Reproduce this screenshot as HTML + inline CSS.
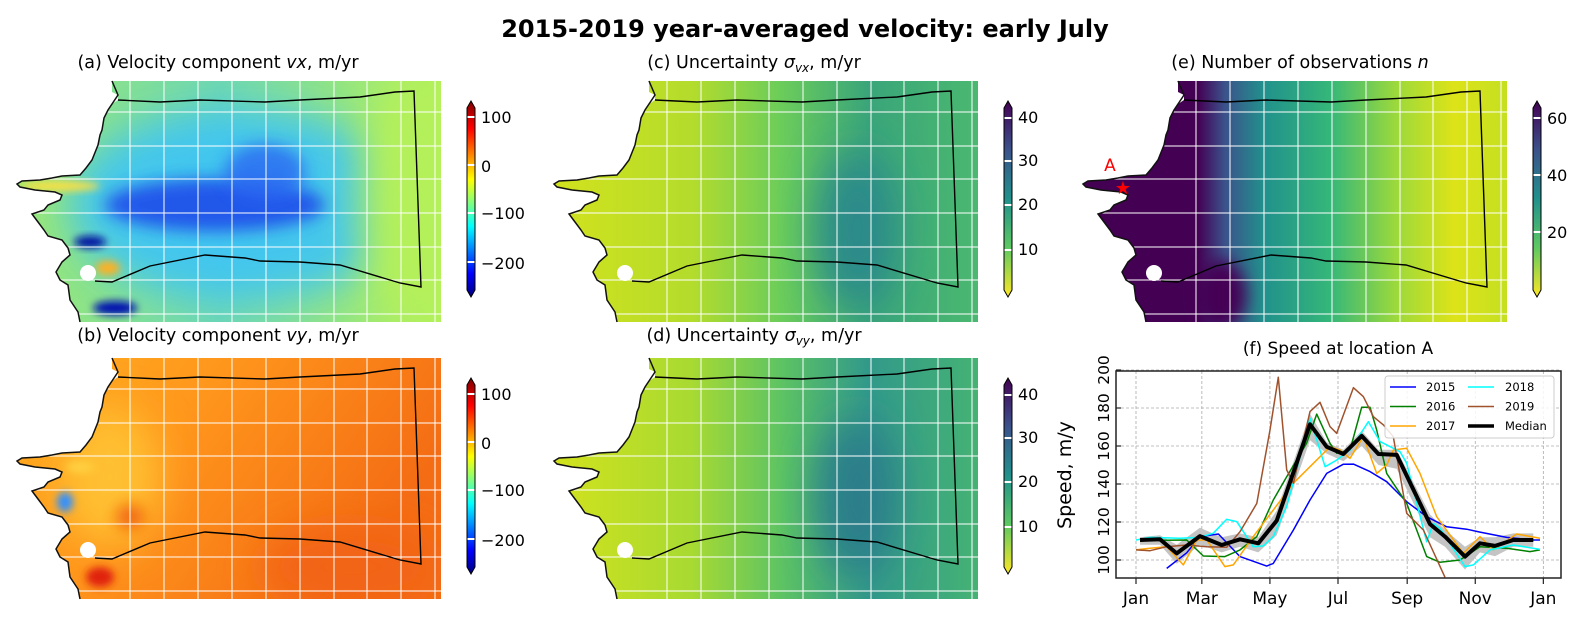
<!DOCTYPE html>
<html><head><meta charset="utf-8">
<style>
html,body{margin:0;padding:0;background:#fff;}
svg{display:block;font-family:"DejaVu Sans","Liberation Sans",sans-serif;}
</style></head>
<body>
<svg id="fig" width="1592" height="630" viewBox="0 0 1592 630" xmlns="http://www.w3.org/2000/svg">
<defs>
  <clipPath id="land"><path d="M112,81 L441,81 L441,322 L80,322 L78,312 L70,300 L68,285 L60,280 L56,272 L62,262 L70,255 L68,248 L62,240 L48,236 L44,230 L38,222 L32,214 L44,210 L48,205 L60,200 L62,195 L55,192 L35,190 L20,187 L17,184 L22,181 L40,180 L52,178 L62,176 L80,175 L86,168 L92,160 L96,150 L98,145 L100,135 L102,130 L104,118 L108,110 L112,104 L118,100 L118,95 L112,92 Z"/></clipPath>
  <filter id="b8" x="-50%" y="-50%" width="200%" height="200%"><feGaussianBlur stdDeviation="8"/></filter>
  <filter id="b20" x="-50%" y="-50%" width="200%" height="200%"><feGaussianBlur stdDeviation="20"/></filter>
  <filter id="b4" x="-50%" y="-50%" width="200%" height="200%"><feGaussianBlur stdDeviation="4"/></filter>
  <linearGradient id="gA" x1="0" x2="1" y1="0" y2="0"><stop offset="0" stop-color="#9eea70"/><stop offset="0.5" stop-color="#70d8b0"/><stop offset="1" stop-color="#b2f05c"/></linearGradient>
  <linearGradient id="gB" x1="0" x2="1" y1="0" y2="0.4"><stop offset="0" stop-color="#ffb020"/><stop offset="0.45" stop-color="#ff961c"/><stop offset="1" stop-color="#f46c14"/></linearGradient>
  <linearGradient id="gC" x1="0" x2="1" y1="0" y2="0"><stop offset="0.04" stop-color="#d2e21c"/><stop offset="0.35" stop-color="#b4dc2c"/><stop offset="0.55" stop-color="#6ccd5a"/><stop offset="0.75" stop-color="#3aa57a"/><stop offset="1" stop-color="#4ab870"/></linearGradient>
  <linearGradient id="gD" x1="0" x2="1" y1="0" y2="0"><stop offset="0.04" stop-color="#d2e21c"/><stop offset="0.35" stop-color="#a8da32"/><stop offset="0.55" stop-color="#5ec462"/><stop offset="0.75" stop-color="#32998a"/><stop offset="1" stop-color="#45b274"/></linearGradient>
  <linearGradient id="gE" x1="0" x2="1" y1="0" y2="0"><stop offset="0" stop-color="#440154"/><stop offset="0.30" stop-color="#440154"/><stop offset="0.36" stop-color="#3b528b"/><stop offset="0.45" stop-color="#21918c"/><stop offset="0.6" stop-color="#35b779"/><stop offset="0.75" stop-color="#9dd93b"/><stop offset="0.88" stop-color="#dde318"/><stop offset="1" stop-color="#c5e021"/></linearGradient>
  <linearGradient id="jet" x1="0" x2="0" y1="1" y2="0"><stop offset="0" stop-color="#00007f"/><stop offset="0.12" stop-color="#0000ff"/><stop offset="0.36" stop-color="#00ffff"/><stop offset="0.6" stop-color="#ffff00"/><stop offset="0.86" stop-color="#ff0000"/><stop offset="1" stop-color="#7f0000"/></linearGradient>
  <linearGradient id="vir" x1="0" x2="0" y1="1" y2="0"><stop offset="0" stop-color="#fde725"/><stop offset="0.25" stop-color="#5ec962"/><stop offset="0.5" stop-color="#21918c"/><stop offset="0.75" stop-color="#3b528b"/><stop offset="1" stop-color="#440154"/></linearGradient>
  <g id="grid" stroke="#fff" stroke-width="1">
    <path d="M130,81V322M164,81V322M198,81V322M232,81V322M266,81V322M300,81V322M334,81V322M367,81V322M401,81V322M435,81V322M17,112H441M17,146H441M17,179H441M17,213H441M17,247H441M17,280H441M17,314H441"/>
  </g>
  <g id="outline">
    <circle cx="88" cy="273" r="8" fill="#fff"/>
    <path d="M112,81 L118,95 L112,104 L108,110 L104,118 L102,130 L100,135 L98,145 L96,150 L92,160 L86,168 L80,175 L62,176 L52,178 L40,180 L22,181 L17,184 L20,187 L35,190 L55,192 L62,195 L60,200 L48,205 L44,210 L32,214 L38,222 L44,230 L48,236 L62,240 L68,248 L70,255 L62,262 L56,272 L60,280 L68,285 L70,300 L78,312 L80,322" fill="none" stroke="#111" stroke-width="1.5"/>
    <path d="M118,100 L160,102 L200,100 L265,102 L300,100 L360,97 L395,92 L414,91 L421,287 L400,283 L340,265 L300,262 L260,261 L245,258 L205,255 L150,266 L112,282 L95,281" fill="none" stroke="#000" stroke-width="1.4"/>
  </g>
</defs>

<text x="805" y="37" text-anchor="middle" font-size="24" font-weight="bold">2015-2019 year-averaged velocity: early July</text>

<!-- Panel a -->
<g>
  <g clip-path="url(#land)">
    <rect x="0" y="81" width="441" height="241" fill="url(#gA)"/>
    <ellipse cx="240" cy="205" rx="170" ry="95" fill="#3cc4f6" opacity="0.9" filter="url(#b20)"/>
    <ellipse cx="215" cy="205" rx="110" ry="26" fill="#1a44ea" opacity="0.85" filter="url(#b8)"/>
    <ellipse cx="265" cy="172" rx="40" ry="28" fill="#2a68f2" opacity="0.8" filter="url(#b8)"/>
    <ellipse cx="60" cy="186" rx="40" ry="5" fill="#ffe040" filter="url(#b4)"/>
    <ellipse cx="90" cy="242" rx="16" ry="6" fill="#0010a0" filter="url(#b4)"/>
    <ellipse cx="115" cy="308" rx="22" ry="7" fill="#0010b0" filter="url(#b4)"/>
    <ellipse cx="108" cy="268" rx="12" ry="7" fill="#ffb020" filter="url(#b4)"/>
    <ellipse cx="420" cy="200" rx="60" ry="130" fill="#b4f05a" filter="url(#b20)"/>
  </g>
  <use href="#grid"/><use href="#outline"/>
</g>
<text x="218" y="68" text-anchor="middle" font-size="17.5">(a) Velocity component <tspan font-style="italic">vx</tspan>, m/yr</text>

<!-- Panel b -->
<g transform="translate(0,277)">
  <g clip-path="url(#land)">
    <rect x="0" y="81" width="441" height="241" fill="url(#gB)"/>
    <ellipse cx="110" cy="200" rx="50" ry="70" fill="#ffc030" filter="url(#b20)"/>
    <ellipse cx="65" cy="225" rx="8" ry="10" fill="#3090ff" filter="url(#b4)"/>
    <ellipse cx="80" cy="190" rx="14" ry="6" fill="#ffd040" filter="url(#b4)"/>
    <ellipse cx="100" cy="300" rx="14" ry="10" fill="#e02010" filter="url(#b4)"/>
    <ellipse cx="130" cy="240" rx="14" ry="12" fill="#f06010" filter="url(#b8)"/>
    <ellipse cx="350" cy="290" rx="90" ry="40" fill="#f26414" filter="url(#b20)"/>
  </g>
  <use href="#grid"/><use href="#outline"/>
</g>
<text x="218" y="341" text-anchor="middle" font-size="17.5">(b) Velocity component <tspan font-style="italic">vy</tspan>, m/yr</text>

<!-- Panel c -->
<g transform="translate(537,0)">
  <g clip-path="url(#land)">
    <rect x="0" y="81" width="441" height="241" fill="url(#gC)"/>
    <ellipse cx="320" cy="230" rx="40" ry="80" fill="#2a8a8a" filter="url(#b20)"/>
  </g>
  <use href="#grid"/><use href="#outline"/>
</g>
<text x="754" y="68" text-anchor="middle" font-size="17.5">(c) Uncertainty <tspan font-style="italic">σ</tspan><tspan font-size="12" dy="4" font-style="italic">vx</tspan><tspan dy="-4">, m/yr</tspan></text>

<!-- Panel d -->
<g transform="translate(537,277)">
  <g clip-path="url(#land)">
    <rect x="0" y="81" width="441" height="241" fill="url(#gD)"/>
    <ellipse cx="320" cy="220" rx="40" ry="80" fill="#2a7e8a" filter="url(#b20)"/>
  </g>
  <use href="#grid"/><use href="#outline"/>
</g>
<text x="754" y="341" text-anchor="middle" font-size="17.5">(d) Uncertainty <tspan font-style="italic">σ</tspan><tspan font-size="12" dy="4" font-style="italic">vy</tspan><tspan dy="-4">, m/yr</tspan></text>

<!-- Panel e -->
<g transform="translate(1066,0)">
  <g clip-path="url(#land)">
    <rect x="0" y="81" width="441" height="241" fill="url(#gE)"/>
    <ellipse cx="155" cy="295" rx="25" ry="35" fill="#440154" filter="url(#b8)"/>
  </g>
  <use href="#grid"/><use href="#outline"/>
</g>
<text x="1300" y="68" text-anchor="middle" font-size="17.5">(e) Number of observations <tspan font-style="italic">n</tspan></text>
<text x="1110" y="171" text-anchor="middle" font-size="17" fill="#ff0000">A</text>
<text x="1123" y="194" text-anchor="middle" font-size="18" fill="#ff0000">★</text>

<!-- Colorbars -->
<g>
  <path d="M467,108 L471,101 L475,108 L475,290 L471,297 L467,290 Z" fill="url(#jet)" stroke="#000" stroke-width="1"/>
  <g fill="#fff"><rect x="467.5" y="116" width="7" height="2"/><rect x="467.5" y="164" width="7" height="2"/><rect x="467.5" y="212" width="7" height="2"/><rect x="467.5" y="261" width="7" height="2"/></g>
  <g font-size="16"><text x="481" y="123">100</text><text x="481" y="172">0</text><text x="481" y="219">−100</text><text x="481" y="269">−200</text></g>
</g>
<g transform="translate(0,277)">
  <path d="M467,108 L471,101 L475,108 L475,290 L471,297 L467,290 Z" fill="url(#jet)" stroke="#000" stroke-width="1"/>
  <g fill="#fff"><rect x="467.5" y="116" width="7" height="2"/><rect x="467.5" y="164" width="7" height="2"/><rect x="467.5" y="212" width="7" height="2"/><rect x="467.5" y="261" width="7" height="2"/></g>
  <g font-size="16"><text x="481" y="123">100</text><text x="481" y="172">0</text><text x="481" y="219">−100</text><text x="481" y="269">−200</text></g>
</g>
<g transform="translate(537,0)">
  <path d="M467,108 L471,101 L475,108 L475,290 L471,297 L467,290 Z" fill="url(#vir)" stroke="#000" stroke-width="1"/>
  <g fill="#fff"><rect x="467.5" y="117" width="7" height="2"/><rect x="467.5" y="160" width="7" height="2"/><rect x="467.5" y="204" width="7" height="2"/><rect x="467.5" y="249" width="7" height="2"/></g>
  <g font-size="16"><text x="481" y="123">40</text><text x="481" y="166">30</text><text x="481" y="210">20</text><text x="481" y="255">10</text></g>
</g>
<g transform="translate(537,277)">
  <path d="M467,108 L471,101 L475,108 L475,290 L471,297 L467,290 Z" fill="url(#vir)" stroke="#000" stroke-width="1"/>
  <g fill="#fff"><rect x="467.5" y="117" width="7" height="2"/><rect x="467.5" y="160" width="7" height="2"/><rect x="467.5" y="204" width="7" height="2"/><rect x="467.5" y="249" width="7" height="2"/></g>
  <g font-size="16"><text x="481" y="123">40</text><text x="481" y="166">30</text><text x="481" y="210">20</text><text x="481" y="255">10</text></g>
</g>
<g transform="translate(1066,0)">
  <path d="M467,108 L471,101 L475,108 L475,290 L471,297 L467,290 Z" fill="url(#vir)" stroke="#000" stroke-width="1"/>
  <g fill="#fff"><rect x="467.5" y="117" width="7" height="2"/><rect x="467.5" y="174" width="7" height="2"/><rect x="467.5" y="231" width="7" height="2"/></g>
  <g font-size="16"><text x="481" y="124">60</text><text x="481" y="181">40</text><text x="481" y="238">20</text></g>
</g>

<!-- Panel f chart -->
<text x="1338" y="354" text-anchor="middle" font-size="17">(f) Speed at location A</text>
<text transform="translate(1071,475) rotate(-90)" text-anchor="middle" font-size="19">Speed, m/y</text>
<defs><clipPath id="plotclip"><rect x="1116" y="371" width="445" height="207"/></clipPath></defs>
<g id="gridF"></g>
<g id="plotF" clip-path="url(#plotclip)"></g>
<g id="axesF"></g>
<g id="legendF"></g>
</svg>
<script>
const monthLabels = ["Jan","Mar","May","Jul","Sep","Nov","Jan"];
const monthDays = [0,59,120,181,243,304,365];
const yTicks = [100,120,140,160,180,200];

const medDays = [3.6,21.5,36.5,57.3,76.8,93.2,109.6,126.1,155.9,170.9,185.8,202.2,217.2,233.6,263.4,276.9,294.8,308.2,321.7,338.1,356];
const medVals = [110.5,110.9,103.5,112.6,107.9,110.9,108.8,120.7,171.4,159.6,155.8,165.3,155.8,155.3,118.9,112.3,101.8,108.8,107.4,110.5,110.5];
const bandUpper = [112,113,108,117,112,114,112,126,177,162,158,168,158,158,124,116,107,112,112,114,114];
const bandLower = [108,108,98,108,104,107,104,113,163,156,152,160,150,148,112,107,95,104,102,107,107];

const d2015 = [27.5,45.4,57.3,73.8,93.2,117.1,123,141,155.9,170.9,185.8,194.8,209.7,224.6,242.6,260.5,278.4,296.3,308.2,332.2,356,362];
const v2015 = [95.6,103.8,112.3,113.7,101.8,96.8,98.2,115.8,131.6,145.6,150.4,150.5,146.5,141.2,130.7,122.8,117.5,116.2,114.7,111.9,110.5,110.5];
const d2016 = [3.6,45.4,60.3,79.7,93.2,108.2,123,135,152.9,161.9,173.8,179.8,191.8,202.2,209.7,215.7,224.6,242.6,260.5,272.4,290.3,308.2,332.2,353,362];
const v2016 = [110.2,110.5,102.1,101.8,105.3,112.3,131.6,143.8,161.4,176.8,161.4,156.2,157.9,180.4,180.4,168.4,145.6,129.8,101.8,98.8,100,107,106.2,104.4,105.3];
const d2017 = [0,12.5,27.5,42.4,54.4,63.4,79.7,87.2,105.1,123,141,155.9,173.8,182.8,191.8,203.7,215.7,224.6,230.6,242.6,254.5,269.4,293.3,308.2,320.1,341,362];
const v2017 = [105.3,106.2,107,97.4,110.5,110.5,96.5,97.4,112.3,126.3,140.4,149.1,159.6,157.9,153.5,164.9,145.6,150,157.9,158.8,145.6,122.8,103.5,112.3,105.3,113.7,111.4];
const d2018 = [0,12.5,39.4,57.3,69.3,81.3,90.2,105.1,114.1,123,135,144,155.9,169.4,179.8,191.8,208.2,218.7,236.6,242.6,251.6,260.5,266.5,272.4,294.8,302.3,317.2,338.1,362];
const v2018 = [110.5,111.9,111.4,111.9,114.1,121.4,120.2,107,107.4,112.3,128.1,147.4,174.6,149.1,152.6,157.9,172.8,162.3,157,150.9,129.8,109.6,119.3,116.7,96.5,97.4,105.3,107.9,105.6];
const d2019 = [0,12.5,27.5,45.4,63.4,81.3,93.2,108.2,120.1,127.5,135,141,155.9,164.9,173.8,179.8,194.8,203.7,212.7,221.7,230.6,242.6,257.5,276.9];
const v2019 = [105.3,104.9,107,107.9,107,106.7,114.9,129.8,168.4,196.2,147.4,140.4,178.1,183,170.2,166.7,190.7,186,175.4,171.1,164.9,124.6,115.8,90.9];

const NS = "http://www.w3.org/2000/svg";
function xS(d){ return 1136 + d*1.116; }
function yS(v){ return 560 - (v-100)*1.9; }
function mk(tag, attrs, parent){
  const e = document.createElementNS(NS, tag);
  for (const k in attrs) e.setAttribute(k, attrs[k]);
  parent.appendChild(e); return e;
}
function pathOf(ds, vs){ return ds.map((d,i)=>(i?"L":"M")+xS(d).toFixed(1)+","+yS(vs[i]).toFixed(1)).join(" "); }

const gridG = document.getElementById("gridF");
const plotG = document.getElementById("plotF");
const axesG = document.getElementById("axesF");
const legG = document.getElementById("legendF");

monthDays.forEach((d,i)=>{
  const gl = mk("line",{x1:xS(d),x2:xS(d),y1:371,y2:578,stroke:"#aaa","stroke-width":0.8,"stroke-dasharray":"3,2"},gridG);
  
  
  const tk = mk("line",{x1:xS(d),x2:xS(d),y1:578,y2:584,stroke:"#222","stroke-width":1.2},axesG);
  
  
  const t = mk("text",{x:xS(d),y:604,"text-anchor":"middle","font-size":17},axesG);
  t.textContent = monthLabels[i];
  
  
});
yTicks.forEach(v=>{
  const gl = mk("line",{x1:1116,x2:1561,y1:yS(v),y2:yS(v),stroke:"#aaa","stroke-width":0.8,"stroke-dasharray":"3,2"},gridG);
  
  
  const tk = mk("line",{x1:1116,x2:1121,y1:yS(v),y2:yS(v),stroke:"#222","stroke-width":1.2},axesG);
  
  
  const t = mk("text",{transform:"translate(1109,"+yS(v)+") rotate(-90)","text-anchor":"middle","font-size":15.5},axesG);
  t.textContent = String(v);
  
  
});

let bandD = pathOf(medDays, bandUpper);
bandD += " " + medDays.slice().reverse().map((d,i)=>"L"+xS(d).toFixed(1)+","+yS(bandLower[bandLower.length-1-i]).toFixed(1)).join(" ") + " Z";
const band = mk("path",{d:bandD,fill:"#c4c4c4",stroke:"none"},plotG);



const series = [
  {name:"2015", ds:d2015, vs:v2015, color:"#0000ff", w:1.5},
  {name:"2016", ds:d2016, vs:v2016, color:"#008000", w:1.5},
  {name:"2017", ds:d2017, vs:v2017, color:"#ffa500", w:1.5},
  {name:"2018", ds:d2018, vs:v2018, color:"#00ffff", w:1.5},
  {name:"2019", ds:d2019, vs:v2019, color:"#a0522d", w:1.5},
  {name:"Median", ds:medDays, vs:medVals, color:"#000000", w:4}
];
series.forEach(s=>{
  const p = mk("path",{d:pathOf(s.ds,s.vs),fill:"none",stroke:s.color,"stroke-width":s.w,"stroke-linejoin":"round"},plotG);
  
  
});

const frame = mk("rect",{x:1116,y:371,width:445,height:207,fill:"none",stroke:"#222","stroke-width":1.5},axesG);



const lbox = mk("rect",{x:1385,y:376,width:169,height:62,rx:3,fill:"#fff","fill-opacity":0.85,stroke:"#ccc","stroke-width":1},legG);


series.forEach((s,i)=>{
  const col = i<3?0:1, row = i%3;
  const x0 = col? 1468:1390, y0 = 387 + row*19.5;
  const ln = mk("line",{x1:x0,x2:x0+26,y1:y0,y2:y0,stroke:s.color,"stroke-width":s.w===4?3.5:1.5},legG);
  
  
  const t = mk("text",{x:x0+(col?37:36),y:y0+4,"font-size":11.5},legG);
  t.textContent = s.name;
  
  
});
</script>
</body></html>
